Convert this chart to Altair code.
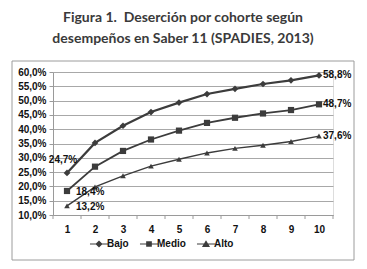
import altair as alt
import pandas as pd

periods = list(range(1, 11))
series_names = ["Bajo", "Medio", "Alto"]
bajo = [24.7, 35.2, 41.2, 46.0, 49.3, 52.3, 54.1, 55.8, 57.1, 58.8]
medio = [18.4, 26.9, 32.4, 36.4, 39.5, 42.2, 44.0, 45.5, 46.7, 48.7]
alto = [13.2, 19.8, 23.7, 27.1, 29.5, 31.7, 33.3, 34.4, 35.7, 37.6]
y_ticks = [10, 15, 20, 25, 30, 35, 40, 45, 50, 55, 60]
x_tick_edges = [0.5 + i for i in range(11)]

rows = []
for name, vals in zip(series_names, [bajo, medio, alto]):
    for p, v in zip(periods, vals):
        rows.append({"serie": name, "cohorte": p, "valor": v})
df = pd.DataFrame(rows)

W, H = 280, 143
DARK = "#3c3c3c"
FONT = "Liberation Sans"

x_scale = alt.Scale(domain=[0.5, 10.5], nice=False)
x_axis = alt.Axis(values=periods, ticks=False, grid=False, domain=True, labelOverlap=False,
                  domainColor="#9a9a9a", labelFont=FONT, labelFontWeight="bold",
                  labelFontSize=10, labelColor="#111", labelPadding=9, title=None)
xs = alt.X("cohorte:Q", scale=x_scale, axis=x_axis)
ys = alt.Y("valor:Q", scale=alt.Scale(domain=[10, 60], nice=False, zero=False),
           axis=alt.Axis(values=y_ticks, grid=True, gridColor="#a8a8a8", domainColor="#9a9a9a",
                         tickColor="#9a9a9a", tickSize=4, labelFont=FONT, labelFontWeight="bold",
                         labelFontSize=10, labelColor="#111", labelPadding=3, title=None,
                         labelOverlap=False,
                         labelExpr="replace(format(datum.value, '.1f'), '.', ',') + '%'"))

base = alt.Chart(df)

frame = alt.Chart(pd.DataFrame({"a": [0]})).mark_rect(
    fill="white", fillOpacity=0, stroke="#9c9c9c", strokeWidth=1, clip=False
).encode(x=alt.value(-41), x2=alt.value(301), y=alt.value(-11), y2=alt.value(188))

xticks = alt.Chart(pd.DataFrame({"cohorte": x_tick_edges})).mark_rule(
    color="#9a9a9a", strokeWidth=1
).encode(x=xs, y=alt.value(H), y2=alt.value(H + 4))

bar = "M-1.9,-0.13H1.9V0.13H-1.9Z"
legend_paths = [
    bar + "M0,-0.75L0.75,0L0,0.75L-0.75,0Z",
    bar + "M-0.6,-0.6H0.6V0.6H-0.6Z",
    bar + "M0,-0.8L0.85,0.65H-0.85Z",
]

lines = base.mark_line().encode(
    x=xs, y=ys,
    detail="serie:N",
    strokeWidth=alt.StrokeWidth("serie:N", scale=alt.Scale(domain=series_names, range=[2.2, 1.4, 2.2]), legend=None),
    color=alt.value(DARK),
)

points = base.mark_point(filled=True, opacity=1, color=DARK).encode(
    x=xs, y=ys,
    shape=alt.Shape("serie:N", scale=alt.Scale(domain=series_names, range=["diamond", "square", "triangle-up"]),
                    legend=None),
    size=alt.Size("serie:N", scale=alt.Scale(domain=series_names, range=[45, 32, 55]), legend=None),
)

legend_layer = base.transform_filter("false").mark_point(filled=True, color=DARK).encode(
    x=xs, y=ys,
    shape=alt.Shape("serie:N", scale=alt.Scale(domain=series_names, range=legend_paths),
                    legend=alt.Legend(
                        orient="none", legendX=41, legendY=167, direction="horizontal",
                        title=None, labelFont=FONT, labelFontWeight="bold", labelFontSize=10,
                        labelColor="#111", symbolSize=90, labelOffset=3, columnPadding=10,
                        symbolFillColor=DARK, symbolStrokeColor=DARK, symbolStrokeWidth=0,
                        symbolOpacity=1)),
)

fmt = "replace(format(datum.valor, '.1f'), '.', ',') + '%'"
label_style = dict(font=FONT, fontWeight="bold", fontSize=10, color="#111")

last_labels = base.transform_filter("datum.cohorte == 10").transform_calculate(txt=fmt).mark_text(
    align="left", baseline="middle", dx=4, **label_style
).encode(x=xs, y=ys, text="txt:N")

first_bajo = base.transform_filter("datum.cohorte == 1 && datum.serie == 'Bajo'").transform_calculate(txt=fmt).mark_text(
    align="center", baseline="middle", dx=-4, dy=-13, **label_style
).encode(x=xs, y=ys, text="txt:N")

first_other = base.transform_filter("datum.cohorte == 1 && datum.serie != 'Bajo'").transform_calculate(txt=fmt).mark_text(
    align="left", baseline="middle", dx=9, dy=1, **label_style
).encode(x=xs, y=ys, text="txt:N")

chart = alt.layer(frame, xticks, lines, points, legend_layer, last_labels, first_bajo, first_other).resolve_scale(
    shape="independent"
).properties(
    width=W, height=H,
    autosize=alt.AutoSizeParams(type="none"),
    padding={"left": 45, "top": 64, "right": 26, "bottom": 46},
    title=alt.TitleParams(
        text=["Figura 1.\u00a0 Deserción por cohorte según", "desempeños en Saber 11 (SPADIES, 2013)"],
        font="Lato", fontSize=14, fontWeight="bold", color="#3a3a3a",
        anchor="middle", dx=-10, offset=15, lineHeight=21,
    ),
).configure_view(stroke=None).configure(background="white")

chart.save("out.html", embed_options={"renderer": "svg", "actions": False})
